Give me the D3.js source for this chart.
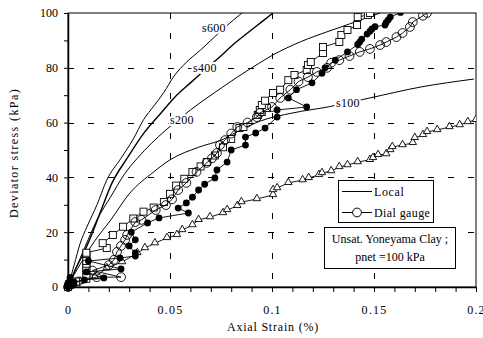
<!DOCTYPE html>
<html><head><meta charset="utf-8">
<script src="https://cdn.jsdelivr.net/npm/d3@7"></script>
<style>body{margin:0;background:#fff}svg{display:block}text{font-family:"Liberation Serif","Times New Roman",Times,serif;fill:#000}</style>
</head><body><svg id="c" width="483" height="338"></svg>
<script>
// ---- data ----
const xTicks = [0, 0.05, 0.1, 0.15, 0.2];
const yTicks = [0, 20, 40, 60, 80, 100];
const localNames = ["s600", "s400", "s200", "s100"];
const s600Strain = [0,0.003,0.006,0.0093,0.0142,0.019,0.026,0.032,0.037,0.042,0.047,0.052,0.058,0.065,0.070,0.081,0.087];
const s600Stress = [0,8,16,22,30,39,47,54,61,66,71,77,82,86.5,90,97.4,101];
const s400Strain = [0,0.004,0.008,0.011,0.0157,0.0216,0.029,0.037,0.0456,0.052,0.060,0.0675,0.0745,0.081,0.088,0.0945,0.1005];
const s400Stress = [0,7,13,18,27,38,47,56,63.5,69,74.5,79.5,84,88.5,92.7,96.5,100];
const s200Strain = [0,0.004,0.008,0.0142,0.021,0.0275,0.034,0.041,0.048,0.054,0.060,0.0716,0.083,0.094,0.1005,0.114,0.128,0.138,0.153];
const s200Stress = [0,7,14,24.5,33,41,47,52.5,57.3,61,64.6,70.8,76.6,81.8,84.7,89.5,93.4,96,100];
const s100Strain = [0,0.003,0.0064,0.0127,0.021,0.030,0.042,0.050,0.064,0.076,0.085,0.094,0.11,0.128,0.148,0.173,0.199];
const s100Stress = [0,4.5,8.8,16.4,24.5,34,42,46.4,51,53.9,57.5,60.5,63.5,65.8,69,73,75.9];

const triStrain = [0,0.002,0.006,0.0132,0.019,0.0265,0.034,0.0377,0.0426,0.0485,0.0534,0.056,0.061,0.064,0.0696,0.076,0.078,0.083,0.085,0.0926,0.1005,0.1005,0.1025,0.108,0.115,0.118,0.123,0.1245,0.129,0.133,0.137,0.142,0.148,0.1495,0.152,0.156,0.158,0.159,0.164,0.169,0.170,0.174,0.176,0.181,0.187,0.192,0.196,0.2];
const triStress = [0,1,2,3.6,6.9,9.1,12.4,14.2,16,17.9,19,20.8,22.6,24.5,25.5,27,28.1,29.6,31,32.1,33.6,35.4,36.1,38,39,39.8,40.9,41.6,42.3,43.8,44.5,45.6,46.4,47.1,48.2,48.5,50,51.1,51.8,52.6,54.4,55.5,56.6,57.3,58.4,59.1,60.2,61];

const fillStrain = [0,0,0.001,0.001,0.002,0.003,0.008,0.0176,0.009,0.026,0.010,0.0255,0.033,0.033,0.030,0.033,0.031,0.039,0.0446,0.059,0.054,0.058,0.061,0.064,0.067,0.072,0.073,0.078,0.080,0.087,0.087,0.092,0.0966,0.1025,0.1025,0.117,0.108,0.112,0.1196,0.1245,0.126,0.131,0.137,0.142,0.143,0.144,0.1466,0.148,0.149,0.1505,0.1554,0.156,0.157,0.158,0.163];
const fillStress = [0,1.5,2.5,3.5,1,1.8,2.6,3.3,5.5,6.6,9.5,10.6,11.3,12.4,15,17.2,20,23.4,25.2,27,28.8,30.7,32.8,35.4,37.5,39.8,42.7,45.6,50,51.8,54.7,56.2,58,62,64.6,65.7,69,72,74.5,78,80,82.8,85.8,88.5,89.4,90.5,92.3,93.3,94.2,95,95.6,96.6,97.5,98.5,100.2];

const openStrain = [0,0.002,0.005,0.014,0.026,0.012,0.02,0.0225,0.024,0.026,0.028,0.029,0.033,0.036,0.043,0.048,0.051,0.054,0.058,0.063,0.068,0.0706,0.073,0.0745,0.077,0.080,0.083,0.088,0.0926,0.094,0.100,0.104,0.109,0.113,0.1176,0.122,0.127,0.129,0.133,0.138,0.143,0.148,0.153,0.156,0.161,0.164,0.1676,0.169,0.174,0.176];
const openStress = [0,1,2,3.6,3.6,6,8,9.9,12.8,15,17.2,19,23.7,24.5,28.1,29.9,32,35.4,38,42,45.3,47,48.9,51.8,53.6,56,58.4,60,62,63.5,65.7,69,72,75,76.6,78.5,80,81.8,82.8,84.3,85.8,86.9,88.3,89.4,91.2,92.7,94.9,96.7,99,100];

const sqStrain = [0,0.001,0.004,0.009,0.009,0.009,0.009,0.009,0.009,0.009,0.009,0.009,0.019,0.017,0.022,0.027,0.032,0.037,0.042,0.047,0.05,0.053,0.057,0.061,0.065,0.068,0.072,0.076,0.080,0.084,0.086,0.093,0.095,0.0975,0.094,0.095,0.0966,0.1005,0.104,0.108,0.111,0.117,0.1176,0.119,0.125,0.125,0.133,0.134,0.137,0.1417,0.142,0.147,0.148];
const sqStress = [0,1,2,3,4.5,6,7,8.5,9.5,11,12,12.5,14.2,16,19,22,25,27.5,29,31,34,37,39.5,42,44,45.6,48,51,54,58,58.4,62.8,63.9,65.3,64.6,66.4,68,70.8,72,75.5,77.4,79.2,81,82.1,85.4,87.6,89.4,92,93.8,95.6,98.5,99.3,100];

// ---- chart ----
const svg = d3.select("#c");
const x = d3.scaleLinear().domain([0, 0.2]).range([68, 476]);
const y = d3.scaleLinear().domain([0, 100]).range([287, 13]);
const zip = (a, b) => a.map((v, i) => [v, b[i]]);
const line = d3.line().x(d => x(d[0])).y(d => y(d[1]));
const smooth = d3.line().x(d => x(d[0])).y(d => y(d[1])).curve(d3.curveMonotoneX);

svg.append("defs").append("clipPath").attr("id", "clip")
  .append("rect").attr("x", 60).attr("y", 13).attr("width", 416).attr("height", 285);

// grid
const grid = svg.append("g").attr("stroke", "#000").attr("stroke-width", 1).attr("stroke-dasharray", "6,14");
grid.selectAll(".gx").data(xTicks.slice(1, -1)).join("line")
  .attr("x1", d => Math.round(x(d)) + 0.5).attr("x2", d => Math.round(x(d)) + 0.5)
  .attr("y1", y(100)).attr("y2", y(0));
grid.selectAll(".gy").data(yTicks.slice(1, -1)).join("line")
  .attr("y1", d => Math.round(y(d)) + 0.5).attr("y2", d => Math.round(y(d)) + 0.5)
  .attr("x1", x(0)).attr("x2", x(0.2));

// frame
svg.append("rect").attr("x", x(0)).attr("y", y(100)).attr("width", x(0.2) - x(0)).attr("height", y(0) - y(100))
  .attr("fill", "none").attr("stroke", "#000").attr("stroke-width", 1);

// axes
const xMinor = d3.range(0, 0.2001, 0.01);
const gx = svg.append("g").attr("transform", `translate(0,${y(0)})`)
  .call(d3.axisBottom(x).tickValues(xMinor).tickSize(5).tickSizeOuter(0)
    .tickFormat(d => xTicks.some(t => Math.abs(t - d) < 1e-9) ? d3.format("")(+d.toFixed(2)) : ""));
gx.select(".domain").attr("stroke-width", 1.5);
gx.selectAll("text").attr("font-size", 12).attr("letter-spacing", "1.2px")
  .attr("font-family", "Liberation Serif").attr("y", 0).attr("dy", "27px");

const yMinor = d3.range(0, 101, 10);
const gy = svg.append("g").attr("transform", `translate(${x(0)},0)`)
  .call(d3.axisLeft(y).tickValues(yMinor).tickSize(4).tickSizeOuter(0)
    .tickFormat(d => yTicks.includes(d) ? d : ""));
gy.select(".domain").attr("stroke-width", 1.5);
gy.selectAll("text").attr("font-size", 12).attr("font-family", "Liberation Serif").attr("x", -10);

// axis titles
svg.append("text").attr("x", 273).attr("y", 331).attr("text-anchor", "middle")
  .attr("font-size", 12).attr("letter-spacing", "0.8px").text("Axial Strain (%)");
svg.append("text").attr("transform", "translate(18,153) rotate(-90)").attr("text-anchor", "middle")
  .attr("font-size", 12).attr("letter-spacing", "1.4px").text("Deviator stress (kPa)");

const plot = svg.append("g").attr("clip-path", "url(#clip)");

// local curves
const locals = [zip(s600Strain, s600Stress), zip(s400Strain, s400Stress), zip(s200Strain, s200Stress), zip(s100Strain, s100Stress)];
const localW = [1, 1.4, 1, 1];
locals.forEach((d, i) => plot.append("path").attr("d", smooth(d)).attr("fill", "none")
  .attr("stroke", "#000").attr("stroke-width", localW[i]));

// dial gauge series
function series(data, kind) {
  const g = plot.append("g");
  g.append("path").attr("d", line(data)).attr("fill", "none").attr("stroke", "#000").attr("stroke-width", 0.9);
  const m = g.selectAll(".m").data(data).join(kind === "sq" ? "rect" : kind === "tri" ? "path" : "circle");
  if (kind === "sq") {
    m.attr("x", d => x(d[0]) - 3.5).attr("y", d => y(d[1]) - 3.5).attr("width", 7).attr("height", 7)
      .attr("fill", "#fff").attr("stroke", "#000").attr("stroke-width", 0.9);
  } else if (kind === "tri") {
    const sym = d3.symbol(d3.symbolTriangle, 24)();
    m.attr("d", sym).attr("transform", d => `translate(${x(d[0])},${y(d[1]) - 0.5})`)
      .attr("fill", "#fff").attr("stroke", "#000").attr("stroke-width", 0.9);
  } else if (kind === "open") {
    m.attr("cx", d => x(d[0])).attr("cy", d => y(d[1])).attr("r", 4.4)
      .attr("fill", "none").attr("stroke", "#000").attr("stroke-width", 0.9);
  } else {
    m.attr("cx", d => x(d[0])).attr("cy", d => y(d[1])).attr("r", 3.4).attr("fill", "#000");
  }
}
series(zip(triStrain, triStress), "tri");
series(zip(sqStrain, sqStress), "sq");
series(zip(openStrain, openStress), "open");
series(zip(fillStrain, fillStress), "fill");

// curve labels (white halo makes the gap in the lines)
const labelPos = [[0.0657, 93], [0.0613, 78.5], [0.0500, 59.5], [0.1314, 65.7]];
localNames.forEach((n, i) => svg.append("text").attr("x", x(labelPos[i][0])).attr("y", y(labelPos[i][1]))
  .attr("font-size", 12).attr("letter-spacing", "0.3px")
  .attr("stroke", "#fff").attr("stroke-width", 4).attr("paint-order", "stroke").text(n));

// legend
const lg = svg.append("g");
lg.append("rect").attr("x", 338.5).attr("y", 180.5).attr("width", 95).attr("height", 42)
  .attr("fill", "#fff").attr("stroke", "#000").attr("stroke-width", 1);
lg.append("line").attr("x1", 342).attr("x2", 372).attr("y1", 191.5).attr("y2", 191.5).attr("stroke", "#000");
lg.append("text").attr("x", 374).attr("y", 195.5).attr("font-size", 12).attr("letter-spacing", "0.6px").text("Local");
lg.append("line").attr("x1", 342).attr("x2", 372).attr("y1", 212.5).attr("y2", 212.5).attr("stroke", "#000");
lg.append("circle").attr("cx", 357).attr("cy", 212.5).attr("r", 4.4).attr("fill", "#fff").attr("stroke", "#000");
lg.append("text").attr("x", 374).attr("y", 216.5).attr("font-size", 12).attr("letter-spacing", "0.4px").text("Dial gauge");

const nb = svg.append("g");
nb.append("rect").attr("x", 324.5).attr("y", 227.5).attr("width", 131).attr("height", 41)
  .attr("fill", "#fff").attr("stroke", "#000").attr("stroke-width", 1);
nb.append("text").attr("x", 390).attr("y", 243).attr("text-anchor", "middle").attr("font-size", 12).text("Unsat. Yoneyama Clay ;");
nb.append("text").attr("x", 390).attr("y", 261).attr("text-anchor", "middle").attr("font-size", 12).text("pnet =100 kPa");
</script></body></html>
